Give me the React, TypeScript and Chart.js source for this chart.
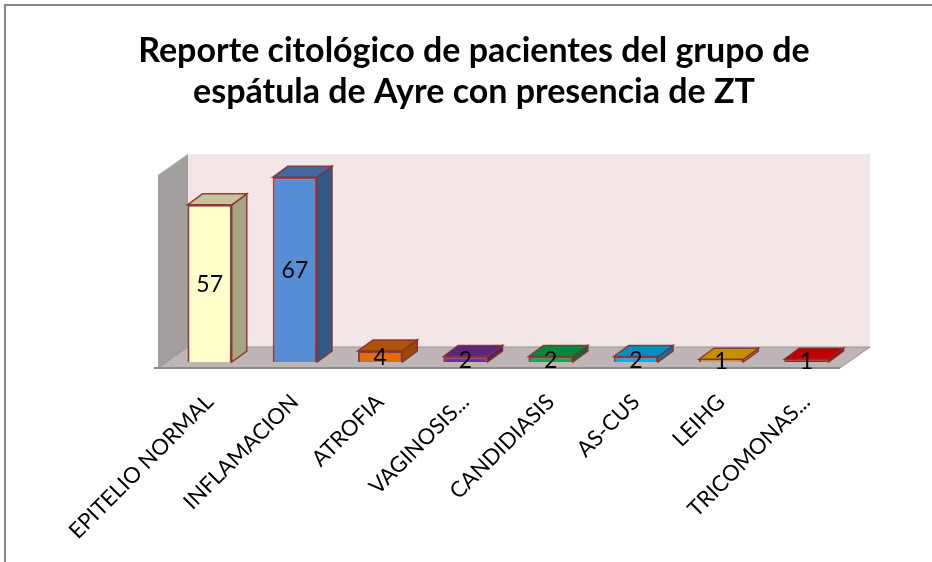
import React, { useEffect, useRef } from 'react';
import { Chart, registerables } from 'chart.js';

Chart.register(...registerables);

const categories = [
  'EPITELIO NORMAL',
  'INFLAMACION',
  'ATROFIA',
  'VAGINOSIS...',
  'CANDIDIASIS',
  'AS-CUS',
  'LEIHG',
  'TRICOMONAS...',
];
const values = [57, 67, 4, 2, 2, 2, 1, 1];
const frontColors = ['#FFFFCC', '#558ED5', '#E36C09', '#7030A0', '#00B050', '#00B0F0', '#E2A21A', '#E00000'];
const topColors = ['#C4C39E', '#3E6BA6', '#B0530A', '#59267F', '#008A3E', '#0090C4', '#C49000', '#C00000'];
const sideColors = ['#A5A582', '#33598A', '#9A4908', '#4A1F6B', '#00703A', '#0078A8', '#A87A00', '#A00000'];
const titleLines = ['Reporte citológico de pacientes del grupo de', 'espátula de Ayre con presencia de ZT'];
const yMax = 70;

const BAR_DEPTH = { dx: 15, dy: -11 };
const WALL_OFF = { dx: 21, dy: -15 };
const FRONT_OFF = { dx: -9, dy: 6 };
const BORDER = 'rgba(140,45,45,0.9)';

function poly(ctx: CanvasRenderingContext2D, pts: number[][], fill: string, stroke?: string, lw = 1) {
  ctx.beginPath();
  ctx.moveTo(pts[0][0], pts[0][1]);
  for (let i = 1; i < pts.length; i++) ctx.lineTo(pts[i][0], pts[i][1]);
  ctx.closePath();
  ctx.fillStyle = fill;
  ctx.fill();
  if (stroke) {
    ctx.strokeStyle = stroke;
    ctx.lineWidth = lw;
    ctx.stroke();
  }
}

const decoPlugin = {
  id: 'deco3d',
  beforeDraw(chart: any) {
    const ctx = chart.ctx as CanvasRenderingContext2D;
    ctx.save();
    ctx.fillStyle = '#ffffff';
    ctx.fillRect(0, 0, chart.width, chart.height);
    ctx.strokeStyle = '#878787';
    ctx.lineWidth = 2;
    ctx.strokeRect(5, 5, chart.width + 40, chart.height + 40);
    ctx.fillStyle = '#000';
    ctx.font = 'bold 34px Lato';
    ctx.textAlign = 'center';
    ctx.textBaseline = 'alphabetic';
    titleLines.forEach((t, i) => ctx.fillText(t, 474, 62 + i * 41));
    ctx.restore();
  },
  beforeDatasetsDraw(chart: any) {
    const ctx = chart.ctx as CanvasRenderingContext2D;
    const { left, right, top, bottom } = chart.chartArea;
    ctx.save();
    // back wall
    ctx.fillStyle = '#F2E6E6';
    ctx.fillRect(left + WALL_OFF.dx, top + WALL_OFF.dy, right - left, bottom - top);
    // left side wall
    poly(ctx, [
      [left + FRONT_OFF.dx, top + FRONT_OFF.dy],
      [left + WALL_OFF.dx, top + WALL_OFF.dy],
      [left + WALL_OFF.dx, bottom + WALL_OFF.dy],
      [left + FRONT_OFF.dx, bottom + FRONT_OFF.dy],
    ], '#A39F9F');
    // floor
    poly(ctx, [
      [left + FRONT_OFF.dx, bottom + FRONT_OFF.dy],
      [left + WALL_OFF.dx, bottom + WALL_OFF.dy],
      [right + WALL_OFF.dx, bottom + WALL_OFF.dy],
      [right + FRONT_OFF.dx, bottom + FRONT_OFF.dy],
    ], '#BEB6B6', '#9A9595', 1);
    ctx.strokeStyle = '#8E8A8A';
    ctx.lineWidth = 2;
    ctx.beginPath();
    ctx.moveTo(left + FRONT_OFF.dx - 4, bottom + FRONT_OFF.dy);
    ctx.lineTo(right + FRONT_OFF.dx, bottom + FRONT_OFF.dy);
    ctx.stroke();
    // bar side and top faces
    const meta = chart.getDatasetMeta(0);
    meta.data.forEach((bar: any, i: number) => {
      const { x, y, base, width } = bar.getProps(['x', 'y', 'base', 'width'], true);
      const l = x - width / 2;
      const r = x + width / 2;
      const { dx, dy } = BAR_DEPTH;
      poly(ctx, [[r, y], [r + dx, y + dy], [r + dx, base + dy], [r, base]], sideColors[i], BORDER, 1.5);
      poly(ctx, [[l, y], [l + dx, y + dy], [r + dx, y + dy], [r, y]], topColors[i], BORDER, 1.5);
    });
    ctx.restore();
  },
  afterDatasetsDraw(chart: any) {
    const ctx = chart.ctx as CanvasRenderingContext2D;
    const meta = chart.getDatasetMeta(0);
    ctx.save();
    ctx.fillStyle = '#000';
    ctx.font = '23px Lato';
    ctx.textAlign = 'center';
    ctx.textBaseline = 'middle';
    meta.data.forEach((bar: any, i: number) => {
      const { x, y, base } = bar.getProps(['x', 'y', 'base'], true);
      ctx.fillText(String(values[i]), x, (y + base) / 2 + 1);
    });
    ctx.restore();
  },
};

export default function App() {
  const ref = useRef<HTMLCanvasElement | null>(null);
  useEffect(() => {
    if (!ref.current) return;
    const chart = new Chart(ref.current, {
      type: 'bar',
      data: {
        labels: categories,
        datasets: [
          {
            data: values,
            backgroundColor: frontColors,
            borderColor: BORDER,
            borderWidth: 2,
            categoryPercentage: 1,
            barPercentage: 0.52,
          },
        ],
      },
      options: {
        animation: false,
        responsive: false,
        devicePixelRatio: 1,
        layout: { padding: { left: 167, right: 83, top: 169, bottom: 0 } },
        plugins: {
          legend: { display: false },
          title: { display: false },
          tooltip: { enabled: false },
        },
        scales: {
          y: { display: false, min: 0, max: yMax },
          x: {
            grid: { display: false, drawTicks: false },
            border: { display: false },
            ticks: {
              autoSkip: false,
              minRotation: 45,
              maxRotation: 45,
              padding: 27,
              color: '#000',
              font: { family: 'Lato', size: 22 },
            },
            afterFit: (scale: any) => {
              scale.height = 200;
            },
          },
        },
      },
      plugins: [decoPlugin],
    });
    return () => chart.destroy();
  }, []);
  return (
    <div style={{ position: 'fixed', left: 0, top: 0, width: 932, height: 562, background: '#fff' }}>
      <canvas ref={ref} width={932} height={562} style={{ display: 'block' }} />
    </div>
  );
}
